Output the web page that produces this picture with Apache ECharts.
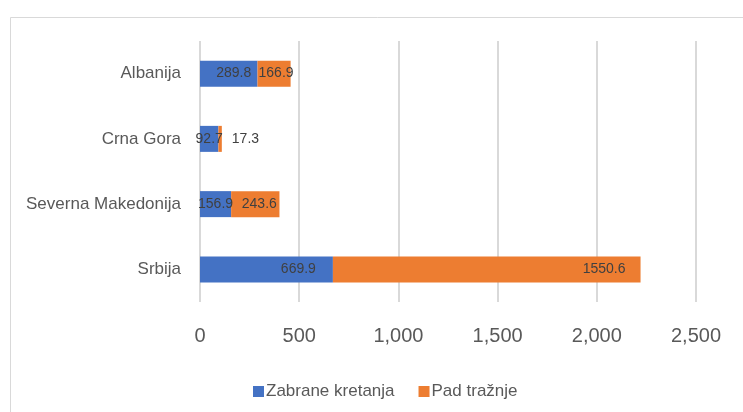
<!DOCTYPE html>
<html><head><meta charset="utf-8">
<script src="https://cdn.jsdelivr.net/npm/echarts@6/dist/echarts.min.js"></script>
<style>html,body{margin:0;padding:0;background:#fff}#c{width:743px;height:412px}</style>
</head><body><div id="c"></div>
<script>
var categories = ['Srbija', 'Severna Makedonija', 'Crna Gora', 'Albanija'];
var zabraneKretanja = [669.9, 156.9, 92.7, 289.8];
var padTraznje = [1550.6, 243.6, 17.3, 166.9];
var xTicks = [0, 500, 1000, 1500, 2000, 2500];

var FONT = '"Liberation Sans", Arial, sans-serif';
var labelBase = {show: true, color: '#404040', fontSize: 14, fontFamily: FONT};
// per-item label placement (style only)
var blueLabelPos = [
  {position: 'insideRight', distance: 17},
  {position: 'inside'},
  {position: 'inside'},
  {position: 'inside', offset: [5, 0]}
];
var orangeLabelPos = [
  {position: 'insideRight', distance: 15},
  {position: 'inside', offset: [4, 0]},
  {position: 'right', distance: 10},
  {position: 'inside', offset: [2, 0]}
];
function build(vals, pos) {
  return vals.map(function (v, i) { return {value: v, label: pos[i]}; });
}
var chart = echarts.init(document.getElementById('c'), null, {renderer: 'canvas'});
chart.setOption({
  animation: false,
  backgroundColor: '#fff',
  graphic: [{
    type: 'rect', shape: {x: 10.5, y: 17.5, width: 800, height: 500},
    style: {fill: 'none', stroke: '#d9d9d9', lineWidth: 1}, silent: true, z: -1
  }],
  grid: {left: 200, right: 47, top: 41, bottom: 110, containLabel: false},
  legend: {
    left: 248, top: 378, itemWidth: 11, itemHeight: 11, itemGap: 24,
    icon: 'rect',
    textStyle: {color: '#595959', fontSize: 17, fontFamily: FONT, padding: [0, 0, 0, -3]},
    data: ['Zabrane kretanja', 'Pad tražnje']
  },
  xAxis: {
    type: 'value', min: xTicks[0], max: xTicks[xTicks.length - 1],
    interval: xTicks[1] - xTicks[0],
    axisLine: {show: false}, axisTick: {show: false},
    splitLine: {show: true, lineStyle: {color: '#d9d9d9', width: 2}},
    axisLabel: {color: '#595959', fontSize: 20, fontFamily: FONT, margin: 24,
      formatter: function (v) { return v.toLocaleString('en-US'); }}
  },
  yAxis: {
    type: 'category', data: categories,
    axisLine: {show: false}, axisTick: {show: false},
    axisLabel: {color: '#595959', fontSize: 17, fontFamily: FONT, margin: 19}
  },
  series: [
    {name: 'Zabrane kretanja', type: 'bar', stack: 's', barWidth: 26,
     itemStyle: {color: '#4472C4'}, label: labelBase,
     data: build(zabraneKretanja, blueLabelPos)},
    {name: 'Pad tražnje', type: 'bar', stack: 's', barWidth: 26,
     itemStyle: {color: '#ED7D31'}, label: labelBase,
     data: build(padTraznje, orangeLabelPos)}
  ]
});
</script></body></html>
